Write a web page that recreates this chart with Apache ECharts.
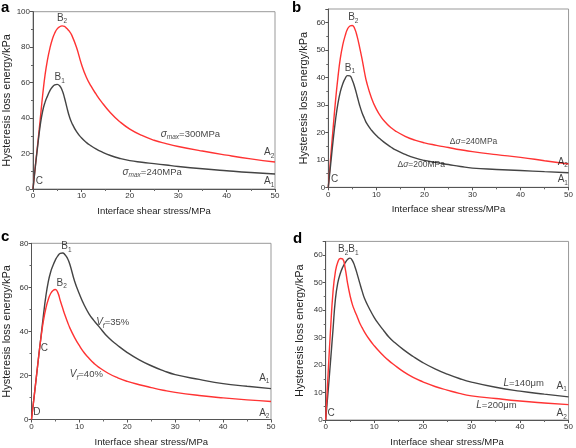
<!DOCTYPE html>
<html><head><meta charset="utf-8">
<script src="https://cdn.jsdelivr.net/npm/echarts@6/dist/echarts.min.js"></script>
<style>html,body{margin:0;padding:0;background:#fff}#c{width:576px;height:448px}</style>
</head><body><div id="c"></div>
<script>
// ---- Data ----
// Interface shear stress samples (MPa), shared by every curve
const xs = [0, 0.5, 1, 1.5, 2, 2.5, 3, 3.5, 4, 4.5, 5, 5.5, 6, 6.5, 7, 7.5, 8, 9, 10, 11, 12, 13, 14, 16, 18, 20, 22.5, 25, 27.5, 30, 35, 40, 45, 50];
// Panel a: sigma_max = 300 MPa (red) / 240 MPa (gray)
const aRed  = [0, 13.5, 26, 39.5, 53, 64.5, 73, 79.5, 84.5, 88, 90.3, 91.5, 92, 91.7, 90.5, 89, 86.8, 79.8, 70.5, 63.2, 58, 53.6, 49.7, 43, 37.8, 33.8, 30.2, 27.5, 25.6, 24, 21.4, 19.1, 17, 15.2];
const aGray = [0, 13, 25, 36, 44, 49, 52.5, 55.5, 57.5, 58.7, 59, 58.2, 55.8, 51.5, 46, 41, 37.4, 32.3, 28.9, 26.3, 24.3, 22.6, 21.2, 18.9, 17.2, 16, 15.1, 14.3, 13.5, 12.7, 11.4, 10.3, 9.3, 8.5];
// Panel b: delta sigma = 240 MPa (red) / 200 MPa (gray)
const bRed  = [0, 11, 21.5, 31.5, 40, 47, 51.8, 55.2, 57.7, 58.8, 59, 57.8, 55, 51.2, 47, 42.3, 38.2, 32.5, 28.5, 25.6, 23.5, 21.8, 20.5, 18.6, 17.2, 16.2, 15.3, 14.5, 13.7, 13, 11.9, 10.9, 9.7, 8.5];
const bGray = [0, 8.5, 17, 24.5, 30.5, 34.8, 37.7, 39.6, 40.7, 40.6, 39, 36.5, 33.3, 30, 27.3, 25.2, 23.3, 20.8, 18.9, 17.3, 15.9, 14.7, 13.6, 12, 10.7, 9.8, 9, 8.3, 7.6, 7, 6.5, 6.1, 5.7, 5.3];
// Panel c: Vf = 35% (gray) / 40% (red)
const cGray = [0, 9.5, 19, 28.7, 38, 47.5, 56, 62.5, 67, 70, 72.5, 74.3, 75.4, 75.6, 74.8, 73.2, 70.5, 62.8, 57, 52, 48, 45, 42.4, 37.3, 33.6, 30.4, 27.1, 24.4, 22.2, 20.4, 18.2, 16.3, 15.1, 14];
const cRed  = [0, 9.5, 19, 28.7, 37.5, 45, 50.5, 54.5, 57.2, 58.6, 59, 57.6, 54, 50.6, 47.3, 44.4, 41.6, 37.2, 33.5, 30.3, 27.8, 25.6, 23.8, 21, 18.9, 17.3, 15.8, 14.5, 13.3, 12.3, 10.9, 9.8, 8.9, 8.2];
// Panel d: L = 140 um (gray) / 200 um (red)
const dGray = [0, 10.5, 21.5, 32.8, 44, 50, 53.3, 55.6, 57.2, 58.4, 58.9, 58, 55.9, 53, 49.9, 46.9, 44.2, 40.5, 37.3, 34.7, 32.4, 30.2, 28.5, 25.6, 23.1, 20.9, 18.6, 16.7, 15.1, 13.8, 11.9, 10.5, 9.4, 8.4];
const dRed  = [0, 17, 33, 46.5, 54, 57.5, 58.8, 58.6, 55.3, 49.8, 45.4, 42, 39.6, 37.5, 35.3, 33.6, 32, 29.3, 27, 25, 23.2, 21.6, 20.2, 17.6, 15.5, 13.9, 12.2, 10.9, 9.7, 8.8, 7.8, 6.9, 6.2, 5.6];

const panelLetters = ['a', 'b', 'c', 'd'];
const yMax = [100, 65, 80, 65];
const yInterval = [20, 10, 20, 10];
const xTitle = 'Interface shear stress/MPa';
const yTitle = 'Hysteresis loss energy/kPa';

// Annotations: [x, y, text] in data units (L = left aligned, B = centred)
const aNotes = [[6.0, 96.5, 'B{s|2}'], [5.5, 63, 'B{s|1}'], [26.4, 31, 'L{i|σ}{is|max}{n|=300MPa}'], [18.5, 9.5, 'L{i|σ}{is|max}{n|=240MPa}'], [48.8, 20.5, 'B A{s|2}'], [48.8, 4.2, 'B A{s|1}'], [1.3, 4.2, 'B C']];
const bNotes = [[5.2, 62, 'B{s|2}'], [4.5, 43.5, 'B{s|1}'], [25.3, 16.8, 'L{m|Δ}{mi|σ}{m|=240MPa}'], [14.4, 8.2, 'L{m|Δ}{mi|σ}{m|=200MPa}'], [48.8, 9.2, 'B A{s|2}'], [48.8, 2.8, 'B A{s|1}'], [1.3, 2.8, 'B C']];
const cNotes = [[7.3, 78.5, 'B{s|1}'], [6.3, 62, 'B{s|2}'], [13.5, 44, 'L{i|V}{is|f}{n|=35%}'], [8.0, 20.5, 'L{i|V}{is|f}{n|=40%}'], [48.6, 18.8, 'B A{s|1}'], [48.6, 3, 'B A{s|2}'], [2.7, 32.5, 'B C'], [1.1, 3.2, 'B D']];
const dNotes = [[3.6, 62, 'B{s|2}'], [5.7, 62, 'B{s|1}'], [36.6, 13.4, 'L{i|L}{n|=140μm}'], [31, 5.5, 'L{i|L}{n|=200μm}'], [48.6, 12.4, 'B A{s|1}'], [48.6, 2.4, 'B A{s|2}'], [1.1, 2.6, 'B C']];

// ---- Layout ----
const FONT = 'Liberation Sans, Arial, sans-serif';
const grids = [
  {left: 31.7, top: 11.7, width: 243.3, height: 177.3},
  {left: 328.3, top: 9.0, width: 243.4, height: 178.3},
  {left: 27.7, top: 243.3, width: 243.3, height: 178},
  {left: 325.7, top: 241.4, width: 246, height: 179.9}
];
const yNameGap = [21, 19, 19.5, 20.5];
const xNameGap = [17.5, 17.5, 17.5, 17];

const RED = '#ff3333', GRAY = '#444444';

function zip(xv, yv) { return xv.map((x, i) => [x, yv[i]]); }

const rich = {
  s: {fontSize: 6.5, fontFamily: FONT, color: '#111', verticalAlign: 'bottom', lineHeight: 14},
  i: {fontSize: 10, fontFamily: FONT, color: '#111', fontStyle: 'italic', lineHeight: 14},
  is: {fontSize: 6.5, fontFamily: FONT, color: '#111', fontStyle: 'italic', verticalAlign: 'bottom', lineHeight: 14},
  n: {fontSize: 9.5, fontFamily: FONT, color: '#111', lineHeight: 14},
  m: {fontSize: 8.5, fontFamily: FONT, color: '#111', lineHeight: 14},
  mi: {fontSize: 8.5, fontFamily: FONT, color: '#111', fontStyle: 'italic', lineHeight: 14}
};

function noteSeries(notes, gi) {
  return {
    type: 'scatter', xAxisIndex: gi, yAxisIndex: gi, symbolSize: 0, silent: true, z: 10,
    data: notes.map(n => {
      let t = n[2];
      const leftAlign = t.startsWith('L');
      t = t.replace(/^L/, '').replace(/^B /, '');
      return {
        value: [n[0], n[1]],
        label: {
          show: true, position: 'inside', align: leftAlign ? 'left' : 'center', verticalAlign: 'middle',
          fontSize: 10, fontFamily: FONT, color: '#111', lineHeight: 14,
          formatter: t, rich: rich
        }
      };
    })
  };
}

const xAxes = [], yAxes = [];
for (let g = 0; g < 4; g++) {
  xAxes.push({
    gridIndex: g, type: 'value', min: 0, max: 50, interval: 10,
    name: xTitle, nameLocation: 'middle', nameGap: xNameGap[g],
    nameTextStyle: {fontSize: 9.5, color: '#222', fontFamily: FONT},
    axisLine: {onZero: false, lineStyle: {color: '#555', width: 1}},
    axisTick: {length: 3, lineStyle: {color: '#555'}},
    minorTick: {show: true, splitNumber: 2, length: 2, lineStyle: {color: '#666'}},
    axisLabel: {fontSize: 8, color: '#333', margin: 3, fontFamily: FONT},
    splitLine: {show: false}
  });
  yAxes.push({
    gridIndex: g, type: 'value', min: 0, max: yMax[g], interval: yInterval[g],
    name: yTitle, nameLocation: 'middle', nameGap: yNameGap[g], nameRotate: 90,
    nameTextStyle: {fontSize: 11, color: '#222', fontFamily: FONT},
    axisLine: {onZero: false, lineStyle: {color: '#555', width: 1}},
    axisTick: {length: 3, lineStyle: {color: '#555'}},
    minorTick: {show: true, splitNumber: 2, length: 2, lineStyle: {color: '#666'}},
    axisLabel: {fontSize: 8, color: '#333', margin: 3, fontFamily: FONT, showMaxLabel: yMax[g] % yInterval[g] === 0},
    splitLine: {show: false}
  });
}

function line(yv, color, gi) {
  return {
    type: 'line', xAxisIndex: gi, yAxisIndex: gi, data: zip(xs, yv), showSymbol: false,
    smooth: 0.5, lineStyle: {color: color, width: 1.4}, silent: true, z: 5
  };
}

const series = [
  line(aRed, RED, 0), line(aGray, GRAY, 0),
  line(bRed, RED, 1), line(bGray, GRAY, 1),
  line(cGray, GRAY, 2), line(cRed, RED, 2),
  line(dGray, GRAY, 3), line(dRed, RED, 3),
  noteSeries(aNotes, 0), noteSeries(bNotes, 1), noteSeries(cNotes, 2), noteSeries(dNotes, 3)
];

const letterPos = [[1, 0], [292, 0], [1, 229], [293, 231]];
const graphic = panelLetters.map((t, i) => ({
  type: 'text', left: letterPos[i][0], top: letterPos[i][1],
  style: {text: t, font: 'bold 15px ' + FONT, fill: '#000'}
}));

const chart = echarts.init(document.getElementById('c'), null, {renderer: 'canvas'});
chart.setOption({
  animation: false,
  backgroundColor: '#fff',
  grid: grids.map(g => Object.assign({show: true, borderColor: '#999', borderWidth: 1, containLabel: false}, g)),
  xAxis: xAxes, yAxis: yAxes, series: series, graphic: graphic
});
</script></body></html>
